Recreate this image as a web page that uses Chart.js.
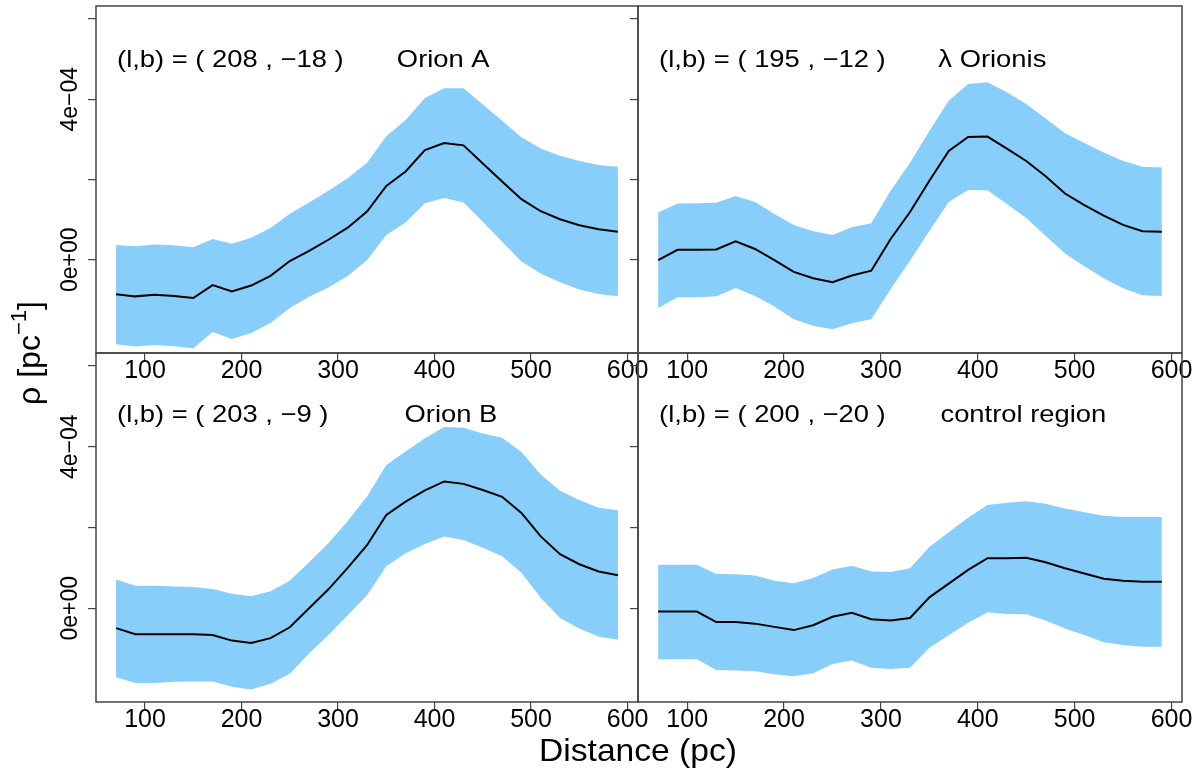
<!DOCTYPE html>
<html>
<head>
<meta charset="utf-8">
<title>Density profiles</title>
<script src="https://cdn.jsdelivr.net/npm/chart.js@4.4.1/dist/chart.umd.min.js"></script>
<style>
  html, body { margin: 0; padding: 0; background: #fff; }
  #wrap { position: relative; width: 1200px; height: 777px; overflow: hidden; }
  #wrap canvas { position: absolute; left: 0; top: 0; }
</style>
</head>
<body>
<div id="wrap">
  <canvas id="orionA" width="1200" height="777"></canvas>
  <canvas id="lambdaOri" width="1200" height="777"></canvas>
  <canvas id="orionB" width="1200" height="777"></canvas>
  <canvas id="control" width="1200" height="777"></canvas>
</div>
<script>
/* ===============================
   DATA  (rho in units of 1e-4 pc^-1)
================================ */

const distance = [70, 90, 110, 130, 150, 170, 190, 210, 230, 250, 270, 290, 310, 330,
                  350, 370, 390, 410, 430, 450, 470, 490, 510, 530, 550, 570, 590];

const orionAMean  = [-0.86, -0.91, -0.87, -0.90, -0.95, -0.63, -0.79, -0.64, -0.40, -0.03, 0.22, 0.50, 0.80, 1.20,
                     1.84, 2.20, 2.73, 2.91, 2.85, 2.40, 1.95, 1.51, 1.21, 1.01, 0.86, 0.76, 0.70];
const orionAUpper = [0.37, 0.34, 0.38, 0.36, 0.31, 0.52, 0.40, 0.55, 0.79, 1.15, 1.43, 1.72, 2.03, 2.42,
                     3.08, 3.48, 4.03, 4.27, 4.27, 3.87, 3.46, 3.05, 2.77, 2.59, 2.46, 2.36, 2.32];
const orionALower = [-2.10, -2.16, -2.12, -2.15, -2.20, -1.80, -1.97, -1.82, -1.57, -1.20, -0.92, -0.69, -0.40, -0.01,
                     0.62, 0.93, 1.41, 1.54, 1.43, 0.95, 0.45, -0.04, -0.34, -0.56, -0.74, -0.85, -0.91];

const lambdaMean  = [-0.01, 0.25, 0.25, 0.26, 0.46, 0.27, -0.01, -0.30, -0.46, -0.56, -0.39, -0.27, 0.52, 1.19,
                     1.97, 2.71, 3.06, 3.07, 2.77, 2.46, 2.08, 1.65, 1.36, 1.10, 0.87, 0.71, 0.70];
const lambdaUpper = [1.18, 1.40, 1.41, 1.42, 1.59, 1.44, 1.14, 0.87, 0.71, 0.62, 0.81, 0.91, 1.72, 2.42,
                     3.21, 3.96, 4.38, 4.42, 4.17, 3.88, 3.52, 3.15, 2.91, 2.67, 2.46, 2.32, 2.30];
const lambdaLower = [-1.20, -0.93, -0.93, -0.91, -0.70, -0.90, -1.16, -1.48, -1.64, -1.73, -1.58, -1.48, -0.73, -0.02,
                     0.72, 1.44, 1.74, 1.73, 1.39, 1.04, 0.60, 0.16, -0.16, -0.46, -0.71, -0.88, -0.90];

const orionBMean  = [-0.49, -0.64, -0.64, -0.64, -0.64, -0.66, -0.80, -0.86, -0.74, -0.47, 0.00, 0.47, 1.00, 1.56,
                     2.31, 2.64, 2.92, 3.14, 3.08, 2.93, 2.76, 2.36, 1.78, 1.34, 1.09, 0.91, 0.82];
const orionBUpper = [0.71, 0.56, 0.56, 0.54, 0.53, 0.48, 0.36, 0.30, 0.42, 0.68, 1.14, 1.61, 2.16, 2.77,
                     3.55, 3.88, 4.21, 4.49, 4.47, 4.33, 4.22, 3.87, 3.31, 2.91, 2.68, 2.49, 2.43];
const orionBLower = [-1.71, -1.85, -1.85, -1.82, -1.81, -1.81, -1.94, -2.01, -1.87, -1.62, -1.12, -0.66, -0.17, 0.32,
                     1.04, 1.36, 1.59, 1.78, 1.69, 1.50, 1.29, 0.88, 0.26, -0.24, -0.50, -0.70, -0.78];

const controlMean  = [-0.08, -0.08, -0.08, -0.34, -0.34, -0.38, -0.46, -0.54, -0.42, -0.21, -0.11, -0.27, -0.30, -0.24,
                      0.27, 0.61, 0.95, 1.24, 1.24, 1.25, 1.14, 0.99, 0.86, 0.73, 0.68, 0.66, 0.66];
const controlUpper = [1.08, 1.08, 1.08, 0.85, 0.84, 0.81, 0.68, 0.62, 0.75, 0.96, 1.05, 0.91, 0.90, 0.99,
                      1.52, 1.88, 2.24, 2.56, 2.61, 2.65, 2.59, 2.47, 2.38, 2.29, 2.26, 2.26, 2.26];
const controlLower = [-1.26, -1.26, -1.26, -1.53, -1.54, -1.56, -1.63, -1.68, -1.61, -1.38, -1.29, -1.47, -1.50, -1.47,
                      -0.98, -0.67, -0.36, -0.10, -0.14, -0.15, -0.30, -0.50, -0.66, -0.84, -0.91, -0.95, -0.95];

const xTicks = [100, 200, 300, 400, 500, 600];
const yTicks = [0, 2, 4, 6];
const yTickLabels = { 0: "0e+00", 4: "4e\u221204" };

/* ===============================
   LAYOUT / STYLE
================================ */

const W = 1200, H = 777;
const xMin = 49.2, xMax = 610.8;
const yMin = -2.32, yMax = 6.32;
const yAxisW = 8;
const xAxisH = 40;
const bandColor = "#87CEFA";
const fontFamily = "'Liberation Sans', Arial, Helvetica, sans-serif";
const textStretch = 1.14;

const panels = [
  { id: "orionA", rect: [96, 6, 638, 353], coord: "(l,b) = ( 208 , \u221218 )", name: "Orion A",
    nameX: 409, textY: 4.96, yLabels: true, mean: orionAMean, upper: orionAUpper, lower: orionALower },
  { id: "lambdaOri", rect: [638, 6, 1182, 353], coord: "(l,b) = ( 195 , \u221212 )", name: "\u03bb Orionis",
    nameX: 415, textY: 4.96, yLabels: false, mean: lambdaMean, upper: lambdaUpper, lower: lambdaLower },
  { id: "orionB", rect: [96, 353, 638, 702], coord: "(l,b) = ( 203 , \u22129 )", name: "Orion B",
    nameX: 417, textY: 4.78, yLabels: true, mean: orionBMean, upper: orionBUpper, lower: orionBLower },
  { id: "control", rect: [638, 353, 1182, 702], coord: "(l,b) = ( 200 , \u221220 )", name: "control region",
    nameX: 447, textY: 4.78, yLabels: false, mean: controlMean, upper: controlUpper, lower: controlLower }
];

function toPoints(values) {
  return distance.map((d, i) => ({ x: d, y: values[i] }));
}

function stretchedText(ctx, text, x, y, align) {
  ctx.save();
  ctx.translate(x, y);
  ctx.scale(textStretch, 1);
  ctx.textAlign = align;
  ctx.textBaseline = "middle";
  ctx.fillText(text, 0, 0);
  ctx.restore();
}

/* ===============================
   PLUGINS
================================ */

const panelBox = {
  id: "panelBox",
  afterDatasetsDraw(chart) {
    const { ctx, chartArea: a } = chart;
    ctx.save();
    ctx.strokeStyle = "#444";
    ctx.lineWidth = 1.5;
    ctx.strokeRect(a.left, a.top, a.right - a.left, a.bottom - a.top);
    ctx.restore();
  }
};

const panelText = {
  id: "panelText",
  afterDraw(chart, args, opts) {
    const { ctx } = chart;
    const xs = chart.scales.x, ys = chart.scales.y;
    const p = opts.panel;
    ctx.save();
    ctx.fillStyle = "#000";
    ctx.font = "24px " + fontFamily;
    const y = ys.getPixelForValue(p.textY);
    stretchedText(ctx, p.coord, xs.getPixelForValue(71), y, "left");
    stretchedText(ctx, p.name, xs.getPixelForValue(p.nameX), y, "center");

    if (p.yLabels) {
      ctx.font = "23px " + fontFamily;
      ctx.textAlign = "center";
      ctx.textBaseline = "middle";
      yTicks.forEach(v => {
        const label = yTickLabels[v];
        if (!label) return;
        ctx.save();
        ctx.translate(chart.chartArea.left - 25, ys.getPixelForValue(v));
        ctx.rotate(-Math.PI / 2);
        ctx.fillText(label, 0, 0);
        ctx.restore();
      });
    }
    ctx.restore();
  }
};

const axisTitles = {
  id: "axisTitles",
  afterDraw(chart) {
    const { ctx } = chart;
    ctx.save();
    ctx.fillStyle = "#000";
    ctx.textBaseline = "middle";

    ctx.font = "32px " + fontFamily;
    ctx.textAlign = "center";
    ctx.save();
    ctx.translate(638, 752);
    ctx.scale(1.05, 1);
    ctx.fillText("Distance (pc)", 0, 0);
    ctx.restore();

    // rho [pc^-1], rotated
    ctx.save();
    ctx.translate(31, 353);
    ctx.rotate(-Math.PI / 2);
    ctx.textAlign = "left";
    const big = "32px " + fontFamily, small = "22px " + fontFamily;
    ctx.font = big;
    const w1 = ctx.measureText("\u03c1 [pc").width;
    const w3 = ctx.measureText("]").width;
    ctx.font = small;
    const w2 = ctx.measureText("\u22121").width;
    let x = -(w1 + w2 + w3) / 2;
    ctx.font = big;
    ctx.fillText("\u03c1 [pc", x, 0);
    x += w1;
    ctx.font = small;
    ctx.fillText("\u22121", x, -11);
    x += w2;
    ctx.font = big;
    ctx.fillText("]", x, 0);
    ctx.restore();

    ctx.restore();
  }
};

/* ===============================
   CHARTS
================================ */

function renderPanel(p, extraPlugins) {
  const r = p.rect;
  const tickGrid = { drawOnChartArea: false, drawTicks: true, tickLength: 8, color: "#444", lineWidth: 1.2 };

  return new Chart(document.getElementById(p.id), {
    type: "line",
    data: {
      datasets: [
        { data: toPoints(p.mean), borderColor: "#000", borderWidth: 2, pointRadius: 0, fill: false, tension: 0 },
        { data: toPoints(p.upper), borderColor: "rgba(0,0,0,0)", borderWidth: 0, pointRadius: 0,
          backgroundColor: bandColor, fill: "+1", tension: 0 },
        { data: toPoints(p.lower), borderColor: "rgba(0,0,0,0)", borderWidth: 0, pointRadius: 0, fill: false, tension: 0 }
      ]
    },
    options: {
      responsive: false,
      animation: false,
      events: [],
      layout: {
        padding: { left: r[0] - yAxisW, top: r[1], right: W - r[2], bottom: H - r[3] - xAxisH }
      },
      plugins: {
        legend: { display: false },
        tooltip: { enabled: false },
        panelText: { panel: p }
      },
      scales: {
        x: {
          type: "linear",
          min: xMin,
          max: xMax,
          afterBuildTicks: s => { s.ticks = xTicks.map(v => ({ value: v })); },
          afterFit: s => { s.height = xAxisH; },
          grid: tickGrid,
          border: { display: false },
          ticks: {
            color: "#000",
            font: { family: fontFamily, size: 25, lineHeight: 1 },
            padding: -2,
            maxRotation: 0,
            autoSkip: false,
            callback: v => String(v)
          }
        },
        y: {
          type: "linear",
          min: yMin,
          max: yMax,
          afterBuildTicks: s => { s.ticks = yTicks.map(v => ({ value: v })); },
          afterFit: s => { s.width = yAxisW; },
          grid: tickGrid,
          border: { display: false },
          ticks: { display: false }
        }
      }
    },
    plugins: [panelBox, panelText].concat(extraPlugins || [])
  });
}

panels.forEach((p, i) => renderPanel(p, i === 0 ? [axisTitles] : []));
</script>
</body>
</html>
